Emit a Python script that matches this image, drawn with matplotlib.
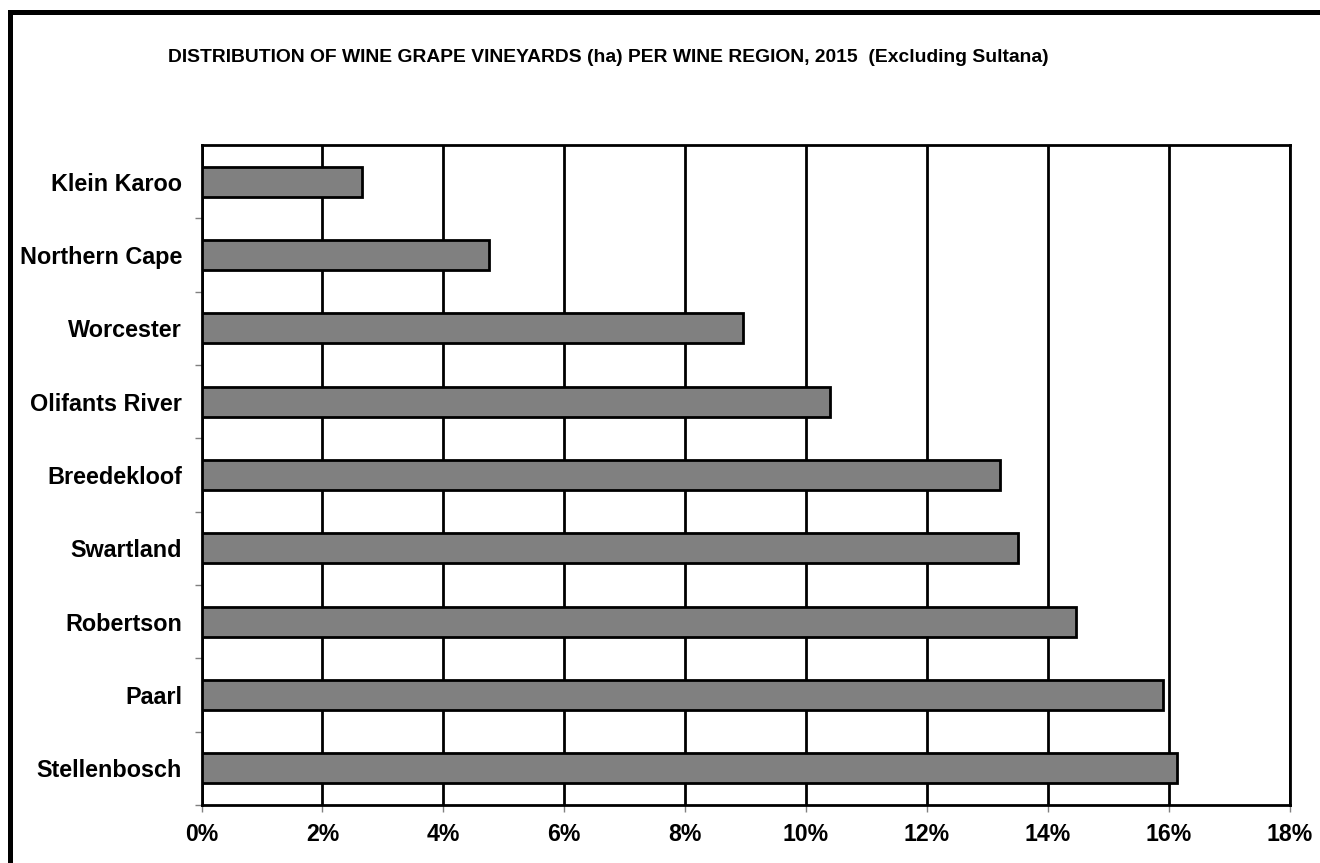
import matplotlib.pyplot as plt
from matplotlib.patches import Rectangle

# Share of wine grape vineyards (ha) per region, 2015, in percent
regions = ['Stellenbosch', 'Paarl', 'Robertson', 'Swartland', 'Breedekloof',
           'Olifants River', 'Worcester', 'Northern Cape', 'Klein Karoo']
shares = [16.14, 15.90, 14.47, 13.51, 13.21, 10.40, 8.96, 4.76, 2.66]
xticks = [0, 2, 4, 6, 8, 10, 12, 14, 16, 18]

plt.rcParams['font.family'] = ['Liberation Sans', 'DejaVu Sans']
plt.rcParams['font.weight'] = 'bold'

fig = plt.figure(figsize=(13.2, 8.63), dpi=100)
ax = fig.add_axes([201.5 / 1320, 58 / 863, 1088 / 1320, 660 / 863])

pos = list(range(len(regions)))
ax.barh(pos, shares, height=0.41, color='#808080', edgecolor='black', linewidth=2, zorder=3)

ax.set_xlim(0, 18)
ax.set_ylim(-0.5, len(regions) - 0.5)
ax.set_xticks(xticks)
ax.set_xticklabels([str(v) + '%' for v in xticks], fontsize=16.6, fontweight='bold')
ax.set_yticks(pos)
ax.set_yticklabels(regions, fontsize=16.8, fontweight='bold')
ax.set_yticks([p + 0.5 for p in pos[:-1]] + [-0.5], minor=True)

ax.tick_params(axis='y', which='major', length=0, pad=14)
ax.tick_params(axis='y', which='minor', length=5, width=1, color='#808080')
ax.tick_params(axis='x', length=5, width=1, color='#808080', pad=8)

ax.grid(axis='x', color='black', linewidth=2)
ax.set_axisbelow(True)
for s in ax.spines.values():
    s.set_linewidth(2)

fig.text(608 / 1320, 1 - 57 / 863,
         'DISTRIBUTION OF WINE GRAPE VINEYARDS (ha) PER WINE REGION, 2015  (Excluding Sultana)',
         ha='center', va='center', fontsize=13.85, fontweight='bold')

# thick frame around the whole chart, running off the right and bottom edge
fig.patches.append(Rectangle((10 / 1320, -0.05), 1.1, 1 - 12.5 / 863 + 0.05,
                             transform=fig.transFigure, fill=False,
                             edgecolor='black', linewidth=3.6))

plt.savefig('out.png')
